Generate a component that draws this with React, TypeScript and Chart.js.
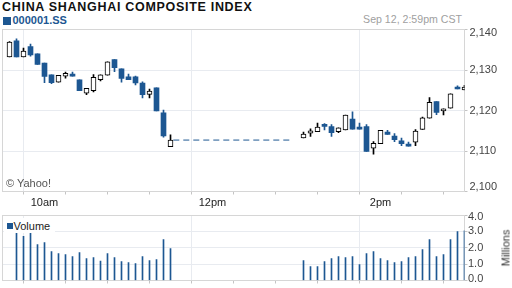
import React, { useEffect, useRef } from "react";
import { Chart, registerables } from "chart.js";

Chart.register(...registerables);

// ---------- data ----------
const times = [
  "9:35", "9:40", "9:45", "9:50", "9:55", "10:00", "10:05", "10:10", "10:15", "10:20", "10:25", "10:30",
  "10:35", "10:40", "10:45", "10:50", "10:55", "11:00", "11:05", "11:10", "11:15", "11:20", "11:25", "11:30",
  "13:05", "13:10", "13:15", "13:20", "13:25", "13:30", "13:35", "13:40", "13:45", "13:50", "13:55", "14:00",
  "14:05", "14:10", "14:15", "14:20", "14:25", "14:30", "14:35", "14:40", "14:45", "14:50", "14:55", "15:00",
];
const opens = [
  2133.2, 2137.2, 2133.2, 2135.8, 2134.0, 2131.7, 2128.8, 2127.0, 2128.5, 2128.6, 2127.6, 2124.3,
  2124.9, 2127.6, 2128.7, 2132.6, 2130.3, 2128.3, 2128.3, 2126.8, 2124.0, 2125.6, 2119.4, 2111.1,
  2113.2, 2114.4, 2114.8, 2116.3, 2116.0, 2114.8, 2115.2, 2117.9, 2115.7, 2116.0, 2110.7, 2111.8,
  2114.7, 2113.7, 2112.5, 2111.3, 2112.2, 2115.3, 2118.1, 2122.2, 2119.9, 2120.6, 2125.4, 2125.1,
];
const highs = [
  2137.0, 2137.7, 2135.4, 2136.4, 2134.0, 2131.7, 2128.8, 2128.7, 2129.5, 2129.5, 2127.6, 2125.5,
  2128.9, 2128.8, 2132.0, 2132.6, 2130.3, 2129.0, 2128.5, 2127.1, 2125.3, 2125.6, 2120.1, 2114.0,
  2114.7, 2115.5, 2116.9, 2116.8, 2116.5, 2115.7, 2118.9, 2119.7, 2116.9, 2116.5, 2112.3, 2115.1,
  2115.1, 2114.3, 2113.2, 2112.2, 2115.3, 2118.4, 2123.2, 2122.2, 2120.4, 2124.1, 2126.1, 2126.2,
];
const lows = [
  2133.2, 2133.2, 2133.2, 2133.4, 2131.4, 2126.9, 2126.6, 2127.0, 2128.0, 2128.5, 2124.9, 2123.9,
  2124.6, 2127.3, 2128.7, 2129.6, 2127.0, 2127.6, 2126.3, 2123.1, 2123.1, 2119.9, 2113.4, 2111.1,
  2113.2, 2113.6, 2114.8, 2115.2, 2113.6, 2114.5, 2115.2, 2115.4, 2115.4, 2109.9, 2109.2, 2111.8,
  2114.1, 2112.3, 2111.3, 2111.2, 2111.3, 2115.3, 2118.1, 2119.0, 2118.9, 2120.6, 2125.3, 2125.1,
];
const closes = [
  2136.9, 2133.2, 2134.7, 2133.7, 2131.4, 2128.4, 2126.9, 2128.7, 2129.2, 2128.5, 2124.9, 2125.5,
  2128.2, 2128.8, 2132.0, 2130.6, 2127.9, 2127.6, 2126.8, 2123.9, 2124.8, 2119.9, 2113.7, 2112.7,
  2114.2, 2115.0, 2115.9, 2116.1, 2114.5, 2115.7, 2118.9, 2115.4, 2115.4, 2109.9, 2111.9, 2115.1,
  2114.1, 2112.8, 2111.8, 2111.2, 2114.9, 2118.2, 2122.0, 2119.5, 2120.4, 2124.1, 2125.3, 2125.8,
];
// volume in millions
const volumes = [
  null, 2.90, 2.69, 2.90, 2.20, 2.32, 1.77, 1.64, 1.58, 1.46, 1.71, 1.34,
  1.40, 1.18, 1.64, 1.40, 1.15, 1.09, 1.03, 1.46, 1.21, 1.28, 2.50, 1.95,
  1.21, 0.85, 0.85, 1.15, 1.34, 1.46, 1.40, 1.46, 0.97, 1.64, 1.77, 1.34,
  1.21, 1.09, 1.15, 1.40, 1.46, 1.89, 2.50, 1.46, 1.58, 2.50, 2.99, 3.04,
];
const lunchBreak = ["11:32", "12:56"];
const lastMorningIndex = 23;
const sessionStart = "9:30";
const sessionEnd = "15:00";
const hourLabels: Record<string, string> = { "10:00": "10am", "12:00": "12pm", "14:00": "2pm" };
const priceRange = [2100, 2140];
const priceStep = 10;
const volumeRange = [0, 4];
const volumeStep = 1;

// ---------- styles ----------
const FONT = "'Liberation Sans', Arial, Helvetica, sans-serif";
const BLUE = "#1d5792";
const GRID = "#e8ebf0";
const BORDER = "#d6d6d6";
const TICK = "#c4c4c4";

const toMin = (s: string) => {
  const [h, m] = s.split(":").map(Number);
  return h * 60 + m;
};
const fmtMin = (v: number) => `${Math.floor(v / 60)}:${String(v % 60).padStart(2, "0")}`;
const isUp = (i: number | undefined) => i !== undefined && closes[i] >= opens[i];

const framePlugin = {
  id: "frame",
  beforeDatasetsDraw(chart: any) {
    const { ctx, chartArea } = chart;
    const l = Math.floor(chartArea.left) + 0.5;
    const t = Math.floor(chartArea.top) + 0.5;
    const r = Math.floor(chartArea.right) + 0.5;
    const b = Math.floor(chartArea.bottom) + 0.5;
    ctx.save();
    ctx.strokeStyle = BORDER;
    ctx.lineWidth = 1;
    ctx.strokeRect(l, t, r - l, b - t);
    ctx.restore();
  },
};

const xGridColor = (ctx: any) =>
  ctx.tick && hourLabels[fmtMin(ctx.tick.value)] ? GRID : "rgba(0,0,0,0)";

// edge labels are nudged inside the plot (as in the original) via two-line labels
const edgeLabel = (text: string, value: number, min: number, max: number) =>
  value === max ? ["", text] : value === min ? [text, ""] : text;
const edgeFont = (min: number, max: number, top: number, bottom: number) => (c: any) => {
  const v = c.tick ? c.tick.value : NaN;
  const lh = v === max ? top : v === min ? bottom : 13;
  return { size: 11, family: FONT, lineHeight: `${lh}px` };
};

const Y_AXIS_W = 47.5;

export default function App() {
  const mainRef = useRef<HTMLCanvasElement>(null);
  const volRef = useRef<HTMLCanvasElement>(null);

  useEffect(() => {
    Chart.defaults.font.family = FONT;
    const xMin = toMin(sessionStart);
    const xMax = toMin(sessionEnd);

    const main = new Chart(mainRef.current!, {
      type: "bar",
      data: {
        datasets: [
          {
            type: "bar",
            data: times.map((t, i) => ({ x: toMin(t), y: [lows[i], highs[i]] })) as any,
            backgroundColor: (c: any) => (isUp(c.dataIndex) ? "#000" : BLUE),
            borderWidth: 0,
            barThickness: 1,
            grouped: false,
            order: 2,
          } as any,
          {
            type: "bar",
            data: times.map((t, i) => ({ x: toMin(t), y: [opens[i], closes[i]] })) as any,
            backgroundColor: (c: any) => (isUp(c.dataIndex) ? "#fff" : BLUE),
            borderColor: (c: any) => (isUp(c.dataIndex) ? "#000" : BLUE),
            borderWidth: (c: any) => (isUp(c.dataIndex) ? 1 : 0),
            borderSkipped: false,
            barThickness: 5,
            minBarLength: 2,
            grouped: false,
            order: 1,
          } as any,
          {
            type: "line",
            data: lunchBreak.map((t) => ({ x: toMin(t), y: closes[lastMorningIndex] })) as any,
            borderColor: BLUE,
            borderWidth: 1,
            borderDash: [6, 4],
            pointRadius: 0,
            order: 3,
          } as any,
        ],
      },
      options: {
        responsive: false,
        animation: false,
        events: [],
        layout: { padding: { top: 9.5, left: 2.5, right: 0, bottom: 0 } },
        plugins: { legend: { display: false }, tooltip: { enabled: false } },
        scales: {
          x: {
            type: "linear",
            min: xMin,
            max: xMax,
            offset: false,
            afterFit: (s: any) => {
              s.height = 20.5;
            },
            ticks: {
              stepSize: 30,
              autoSkip: false,
              maxTicksLimit: 30,
              maxRotation: 0,
              padding: 2,
              color: "#222",
              font: { size: 11, family: FONT },
              callback: (v: any) => hourLabels[fmtMin(Number(v))] ?? "",
            },
            grid: { color: xGridColor, tickColor: TICK, tickLength: 3, drawTicks: true },
            border: { display: false },
          },
          y: {
            position: "right",
            min: priceRange[0],
            max: priceRange[1],
            afterFit: (s: any) => {
              s.width = Y_AXIS_W;
            },
            ticks: {
              stepSize: priceStep,
              padding: 2,
              color: "#444",
              font: edgeFont(priceRange[0], priceRange[1], 7, 9),
              callback: (v: any) =>
                edgeLabel(Number(v).toLocaleString("en-US"), Number(v), priceRange[0], priceRange[1]),
            },
            grid: { color: GRID, tickColor: TICK, tickLength: 3 },
            border: { display: false },
          },
        },
      } as any,
      plugins: [framePlugin],
    });

    const vol = new Chart(volRef.current!, {
      type: "bar",
      data: {
        datasets: [
          {
            data: times.map((t, i) => ({ x: toMin(t), y: volumes[i] })) as any,
            backgroundColor: BLUE,
            borderWidth: 0,
            barThickness: 1,
          },
        ],
      },
      options: {
        responsive: false,
        animation: false,
        events: [],
        layout: { padding: { top: 9, left: 2.5, right: 0, bottom: 0 } },
        plugins: { legend: { display: false }, tooltip: { enabled: false } },
        scales: {
          x: {
            type: "linear",
            min: xMin,
            max: xMax,
            offset: false,
            afterFit: (s: any) => {
              s.height = 7.5;
            },
            ticks: {
              stepSize: 30,
              autoSkip: false,
              maxTicksLimit: 30,
              maxRotation: 0,
              padding: 0,
              callback: () => "",
            },
            grid: { color: xGridColor, tickColor: TICK, tickLength: 3, drawTicks: true },
            border: { display: false },
          },
          y: {
            position: "right",
            min: volumeRange[0],
            max: volumeRange[1],
            afterFit: (s: any) => {
              s.width = Y_AXIS_W;
            },
            ticks: {
              stepSize: volumeStep,
              padding: 0.5,
              color: "#444",
              font: edgeFont(volumeRange[0], volumeRange[1], 3.4, 3),
              callback: (v: any) =>
                edgeLabel(Number(v).toFixed(1), Number(v), volumeRange[0], volumeRange[1]),
            },
            grid: { color: GRID, tickColor: TICK, tickLength: 3 },
            border: { display: false },
          },
        },
      } as any,
      plugins: [framePlugin],
    });

    return () => {
      main.destroy();
      vol.destroy();
    };
  }, []);

  const abs = (o: React.CSSProperties): React.CSSProperties => ({ position: "absolute", whiteSpace: "nowrap", ...o });

  return (
    <div
      style={{
        position: "fixed",
        left: 0,
        top: 0,
        width: 512,
        height: 288,
        background: "#fff",
        overflow: "hidden",
        fontFamily: FONT,
      }}
    >
      <div style={abs({ left: 2, top: 0.5, fontSize: 12.5, lineHeight: "12.5px", fontWeight: 700, letterSpacing: 0.7, color: "#111" })}>
        CHINA SHANGHAI COMPOSITE INDEX
      </div>
      <div style={abs({ left: 2.5, top: 17, width: 8, height: 8, background: BLUE })} />
      <div style={abs({ left: 12.5, top: 15, fontSize: 11, lineHeight: "11px", fontWeight: 700, color: BLUE })}>
        000001.SS
      </div>
      <div style={abs({ right: 50, top: 14, fontSize: 10.6, lineHeight: "10.6px", color: "#a0a0a0" })}>
        Sep 12, 2:59pm CST
      </div>
      <canvas
        ref={mainRef}
        width={512}
        height={192}
        style={{ position: "absolute", left: 0, top: 20, width: 512, height: 192 }}
      />
      <canvas
        ref={volRef}
        width={512}
        height={82}
        style={{ position: "absolute", left: 0, top: 206, width: 512, height: 82 }}
      />
      <div style={abs({ left: 6, top: 178, fontSize: 11, lineHeight: "11px", color: "#555" })}>© Yahoo!</div>
      <div style={abs({ left: 4, top: 218, width: 51, height: 14.5, background: "#fff" })} />
      <div style={abs({ left: 6.5, top: 223, width: 6, height: 6, background: BLUE })} />
      <div style={abs({ left: 13.5, top: 221.3, fontSize: 11, lineHeight: "11px", color: "#222" })}>Volume</div>
      <div
        style={abs({
          left: 505.5,
          top: 248,
          fontSize: 11,
          lineHeight: "11px",
          color: "#333",
          transform: "translate(-50%, -50%) rotate(-90deg)",
        })}
      >
        Millions
      </div>
    </div>
  );
}
